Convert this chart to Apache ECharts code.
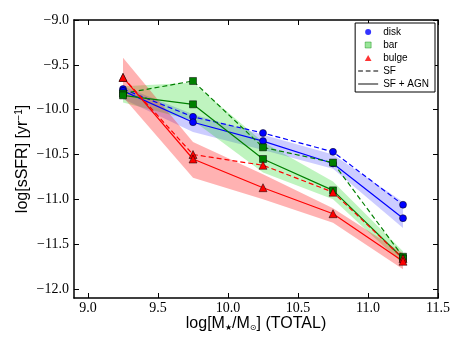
<!DOCTYPE html>
<html>
<head>
<meta charset="utf-8">
<script src="https://cdn.jsdelivr.net/npm/echarts@6/dist/echarts.min.js"></script>
<style>
  html, body { margin: 0; padding: 0; background: #fff; }
  #chart { width: 463px; height: 348px; }
</style>
</head>
<body>
<div id="chart"></div>
<script>
// stellar mass bins (x) and tick labels
const massBins = [9.25, 9.75, 10.25, 10.75, 11.25];
const xTicks = [9.0, 9.5, 10.0, 10.5, 11.0, 11.5];
const yTicks = [-12.0, -11.5, -11.0, -10.5, -10.0, -9.5, -9.0];

// log sSFR per component, SF only (dashed) and SF + AGN (solid)
const diskSF = [-9.77, -10.08, -10.26, -10.47, -11.06];
const diskAll = [-9.79, -10.14, -10.35, -10.60, -11.21];
const barSF = [-9.82, -9.68, -10.42, -10.59, -11.64];
const barAll = [-9.84, -9.94, -10.55, -10.90, -11.66];
const bulgeSF = [-9.64, -10.50, -10.62, -10.92, -11.66];
const bulgeAll = [-9.64, -10.55, -10.87, -11.16, -11.69];

// shaded uncertainty bands (lower / upper)
const diskLo = [-9.88, -10.25, -10.45, -10.66, -11.32];
const diskHi = [-9.74, -10.05, -10.28, -10.50, -11.03];
const barLo = [-9.92, -10.12, -10.70, -11.00, -11.72];
const barHi = [-9.74, -9.70, -10.36, -10.80, -11.58];
const bulgeLo = [-9.86, -10.76, -11.00, -11.26, -11.78];
const bulgeHi = [-9.42, -10.36, -10.72, -11.10, -11.60];

const chart = echarts.init(document.getElementById('chart'), null, { renderer: 'canvas' });

const fmt = v => (v < 0 ? '\u2212' : '') + Math.abs(v).toFixed(1);
const tickFont = 'Liberation Serif';
const sansFont = 'Liberation Sans';

// filled band between lo and hi, drawn once as one polygon
const band = (lo, hi, color) => ({
  type: 'custom',
  data: massBins.map((x, i) => [x, lo[i], hi[i]]),
  silent: true,
  z: 1,
  renderItem: (params, api) => {
    if (params.dataIndex !== 0) return;
    const top = massBins.map((x, i) => api.coord([x, hi[i]]));
    const bottom = massBins.map((x, i) => api.coord([x, lo[i]])).reverse();
    return {
      type: 'polygon',
      shape: { points: top.concat(bottom) },
      style: { fill: color, stroke: null }
    };
  }
});

const line = (vals, color, symbol, size, dashed) => ({
  type: 'line',
  data: massBins.map((x, i) => [x, vals[i]]),
  symbol: symbol,
  symbolSize: size,
  showAllSymbol: true,
  lineStyle: { color: color, width: 1.2, type: dashed ? [5, 3] : 'solid' },
  itemStyle: { color: color, borderColor: '#000', borderWidth: 0.5 },
  z: 3
});

const option = {
  animation: false,
  grid: { left: 74, right: 25, top: 20, bottom: 50 },
  legend: {
    right: 28, top: 23, orient: 'vertical',
    backgroundColor: '#fff', borderColor: '#000', borderWidth: 1, borderRadius: 0,
    padding: [4, 6, 3, 3], itemGap: 3, itemWidth: 20, itemHeight: 6,
    selectedMode: false,
    textStyle: { fontFamily: sansFont, fontSize: 10, color: '#000' },
    data: [
      { name: 'disk', icon: 'circle', itemStyle: { color: '#0000ff', borderWidth: 0 } },
      { name: 'bar', icon: 'path://M0,0H1V1H0Z', itemStyle: { color: '#80e080', borderColor: '#008000', borderWidth: 0.5 } },
      { name: 'bulge', icon: 'path://M1,0L2,1.8H0Z', itemStyle: { color: '#ff0000', borderWidth: 0 } },
      { name: 'SF', icon: 'path://M0,0H5V1H0Z M8,0H13V1H8Z M16,0H21V1H16Z', itemStyle: { color: '#000', borderWidth: 0 } },
      { name: 'SF + AGN', icon: 'path://M0,0H21V1H0Z', itemStyle: { color: '#000', borderWidth: 0 } }
    ]
  },
  xAxis: [
    {
      type: 'value', min: 8.9, max: 11.5, position: 'bottom',
      axisLine: { onZero: false, lineStyle: { color: '#000', width: 1.5 } },
      axisTick: { inside: true, length: 5, customValues: xTicks, lineStyle: { color: '#000' } },
      axisLabel: { customValues: xTicks, formatter: fmt, fontFamily: tickFont, fontSize: 14, color: '#000', margin: 3 },
      splitLine: { show: false },
      name: 'log[M{sub|\u2605}/M{sub|\u2299}] (TOTAL)',
      nameLocation: 'middle', nameGap: 18, nameMoveOverlap: false,
      nameTextStyle: {
        fontFamily: sansFont, fontSize: 16, color: '#000', verticalAlign: 'top',
        rich: { sub: { fontFamily: 'DejaVu Sans', fontSize: 8, padding: [8, 0, 0, 0] } }
      }
    },
    {
      type: 'value', min: 8.9, max: 11.5, position: 'top',
      axisLine: { onZero: false, lineStyle: { color: '#000', width: 1.5 } },
      axisTick: { inside: true, length: 5, customValues: xTicks, lineStyle: { color: '#000' } },
      axisLabel: { show: false },
      splitLine: { show: false }
    }
  ],
  yAxis: [
    {
      type: 'value', min: -12.1, max: -9.0, position: 'left',
      axisLine: { onZero: false, lineStyle: { color: '#000', width: 1.5 } },
      axisTick: { inside: true, length: 5, customValues: yTicks, lineStyle: { color: '#000' } },
      axisLabel: { customValues: yTicks, formatter: fmt, fontFamily: tickFont, fontSize: 14, color: '#000', margin: 5 },
      splitLine: { show: false },
      name: 'log[sSFR] [yr{sup|\u22121}]',
      nameLocation: 'middle', nameGap: 42, nameRotate: 90, nameMoveOverlap: false,
      nameTextStyle: {
        fontFamily: sansFont, fontSize: 16, color: '#000',
        rich: { sup: { fontFamily: sansFont, fontSize: 10, padding: [0, 0, 8, 0] } }
      }
    },
    {
      type: 'value', min: -12.1, max: -9.0, position: 'right',
      axisLine: { onZero: false, lineStyle: { color: '#000', width: 1.5 } },
      axisTick: { inside: true, length: 5, customValues: yTicks, lineStyle: { color: '#000' } },
      axisLabel: { show: false },
      splitLine: { show: false }
    }
  ],
  series: [
    band(diskLo, diskHi, 'rgba(0,0,255,0.2)'),
    band(barLo, barHi, 'rgba(0,210,0,0.25)'),
    band(bulgeLo, bulgeHi, 'rgba(255,0,0,0.3)'),
    line(diskSF, '#0000ff', 'circle', 7, true),
    line(diskAll, '#0000ff', 'circle', 7, false),
    line(barSF, '#008000', 'rect', 7, true),
    line(barAll, '#008000', 'rect', 7, false),
    line(bulgeSF, '#ff0000', 'triangle', 8, true),
    line(bulgeAll, '#ff0000', 'triangle', 8, false),
    // legend entries
    { type: 'scatter', name: 'disk', data: [] },
    { type: 'scatter', name: 'bar', data: [] },
    { type: 'scatter', name: 'bulge', data: [] },
    { type: 'line', name: 'SF', data: [] },
    { type: 'line', name: 'SF + AGN', data: [] }
  ]
};

chart.setOption(option);
</script>
</body>
</html>
